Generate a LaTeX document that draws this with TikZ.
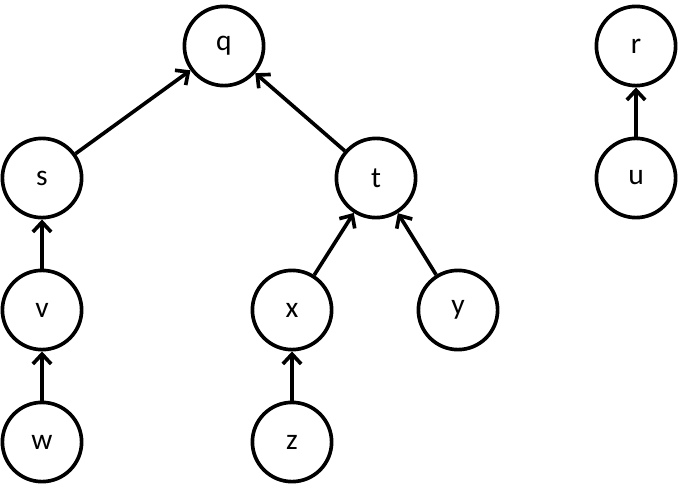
\documentclass[tikz,border=0pt]{standalone}
\usepackage{fontspec}
\setmainfont{Carlito}
\usetikzlibrary{arrows.meta, positioning}

\begin{document}
\begin{tikzpicture}[x=0.025cm, y=-0.025cm,
  vertex/.style={circle, draw, line width=2.6pt, minimum size=1.98cm,
    inner sep=0pt, font=\fontsize{21}{25}\selectfont},
  parent/.style={-{Straight Barb[length=7pt, width=13pt]}, line width=2.6pt}]
  \useasboundingbox (0,0) rectangle (681,486);
  % trees
  \node[vertex] (q) at (224,46) {q};
  \node[vertex] (s) at (42,178) {s};
  \node[vertex] (t) at (376,178) {t};
  \node[vertex] (v) at (42,310) {v};
  \node[vertex] (w) at (42,442) {w};
  \node[vertex] (x) at (292,310) {x};
  \node[vertex] (y) at (458,310) {y};
  \node[vertex] (z) at (292,442) {z};
  \node[vertex] (r) at (636,46) {r};
  \node[vertex] (u) at (636,178) {u};
  % links to parents
  \draw[parent] (s) -- (q);
  \draw[parent] (t) -- (q);
  \draw[parent] (v) -- (s);
  \draw[parent] (w) -- (v);
  \draw[parent] (x) -- (t);
  \draw[parent] (y) -- (t);
  \draw[parent] (z) -- (x);
  \draw[parent] (u) -- (r);
\end{tikzpicture}
\end{document}
